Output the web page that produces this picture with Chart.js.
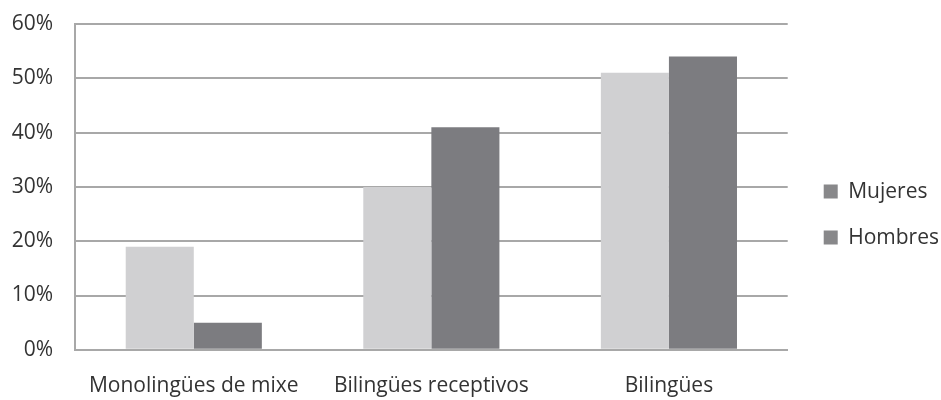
<!DOCTYPE html>
<html>
<head>
<meta charset="utf-8">
<script src="https://cdn.jsdelivr.net/npm/chart.js@4"></script>
<style>
  html, body { margin: 0; padding: 0; background: #fff; }
  #wrap { width: 941px; height: 400px; }
</style>
</head>
<body>
<div id="wrap"><canvas id="chart" width="941" height="400"></canvas></div>
<script>
// data
const categories = ['Monolingües de mixe', 'Bilingües receptivos', 'Bilingües'];
const mujeres = [19, 30, 51];
const hombres = [5, 41, 54];
const yTicks = [0, 10, 20, 30, 40, 50, 60];

const fontFamily = '"Open Sans", sans-serif';
const textColor = '#333333';
const gridColor = '#a8a8a8';
const legendGapExtra = 11;

// widen the legend box on its left so there's more room between plot and legend
const legendGap = {
    id: 'legendGap',
    beforeLayout(chart) {
        const legend = chart.legend;
        if (legend && !legend._gapWrapped) {
            const fit = legend.fit;
            legend.fit = function() {
                fit.call(this);
                this.width += legendGapExtra;
            };
            legend._gapWrapped = true;
        }
    },
    afterLayout(chart) {
        if (chart.legend) chart.legend.left += legendGapExtra;
    }
};

const ctx = document.getElementById('chart').getContext('2d');

new Chart(ctx, {
    type: 'bar',
    data: {
        labels: categories,
        datasets: [
            { label: 'Mujeres', data: mujeres, backgroundColor: '#d0d0d2' },
            { label: 'Hombres', data: hombres, backgroundColor: '#7c7c80' }
        ]
    },
    plugins: [legendGap],
    options: {
        responsive: false,
        animation: false,
        devicePixelRatio: 1,
        categoryPercentage: 0.573,
        barPercentage: 1,
        layout: { padding: { top: 0, right: -8, left: 0, bottom: -23 } },
        plugins: {
            tooltip: { enabled: false },
            legend: {
                position: 'right',
                title: { display: true, text: ' ', font: { size: 1 }, padding: { top: 5, bottom: 0 } },
                labels: {
                    boxWidth: 14,
                    boxHeight: 14,
                    padding: 25,
                    color: textColor,
                    font: { family: fontFamily, size: 21 },
                    generateLabels: function(chart) {
                        return chart.data.datasets.map((ds, i) => ({
                            text: ds.label,
                            fillStyle: '#88888a',
                            strokeStyle: '#88888a',
                            lineWidth: 0,
                            datasetIndex: i,
                            fontColor: textColor
                        }));
                    }
                }
            }
        },
        scales: {
            x: {
                grid: { display: false, drawTicks: false },
                border: { display: true, color: gridColor, width: 2 },
                ticks: {
                    color: textColor,
                    padding: 24,
                    font: { family: fontFamily, size: 21 },
                    maxRotation: 0
                }
            },
            y: {
                min: 0,
                max: 60,
                afterBuildTicks: function(axis) {
                    axis.ticks = yTicks.map(v => ({ value: v }));
                },
                afterFit: function(axis) {
                    axis.width = 75;
                    axis.paddingTop = 24;
                },
                grid: { color: gridColor, lineWidth: 2, drawTicks: false },
                border: { display: true, color: gridColor, width: 2 },
                ticks: {
                    color: textColor,
                    padding: 22,
                    font: { family: fontFamily, size: 21 },
                    callback: function(v) { return v + '%'; }
                }
            }
        }
    }
});
</script>
</body>
</html>
